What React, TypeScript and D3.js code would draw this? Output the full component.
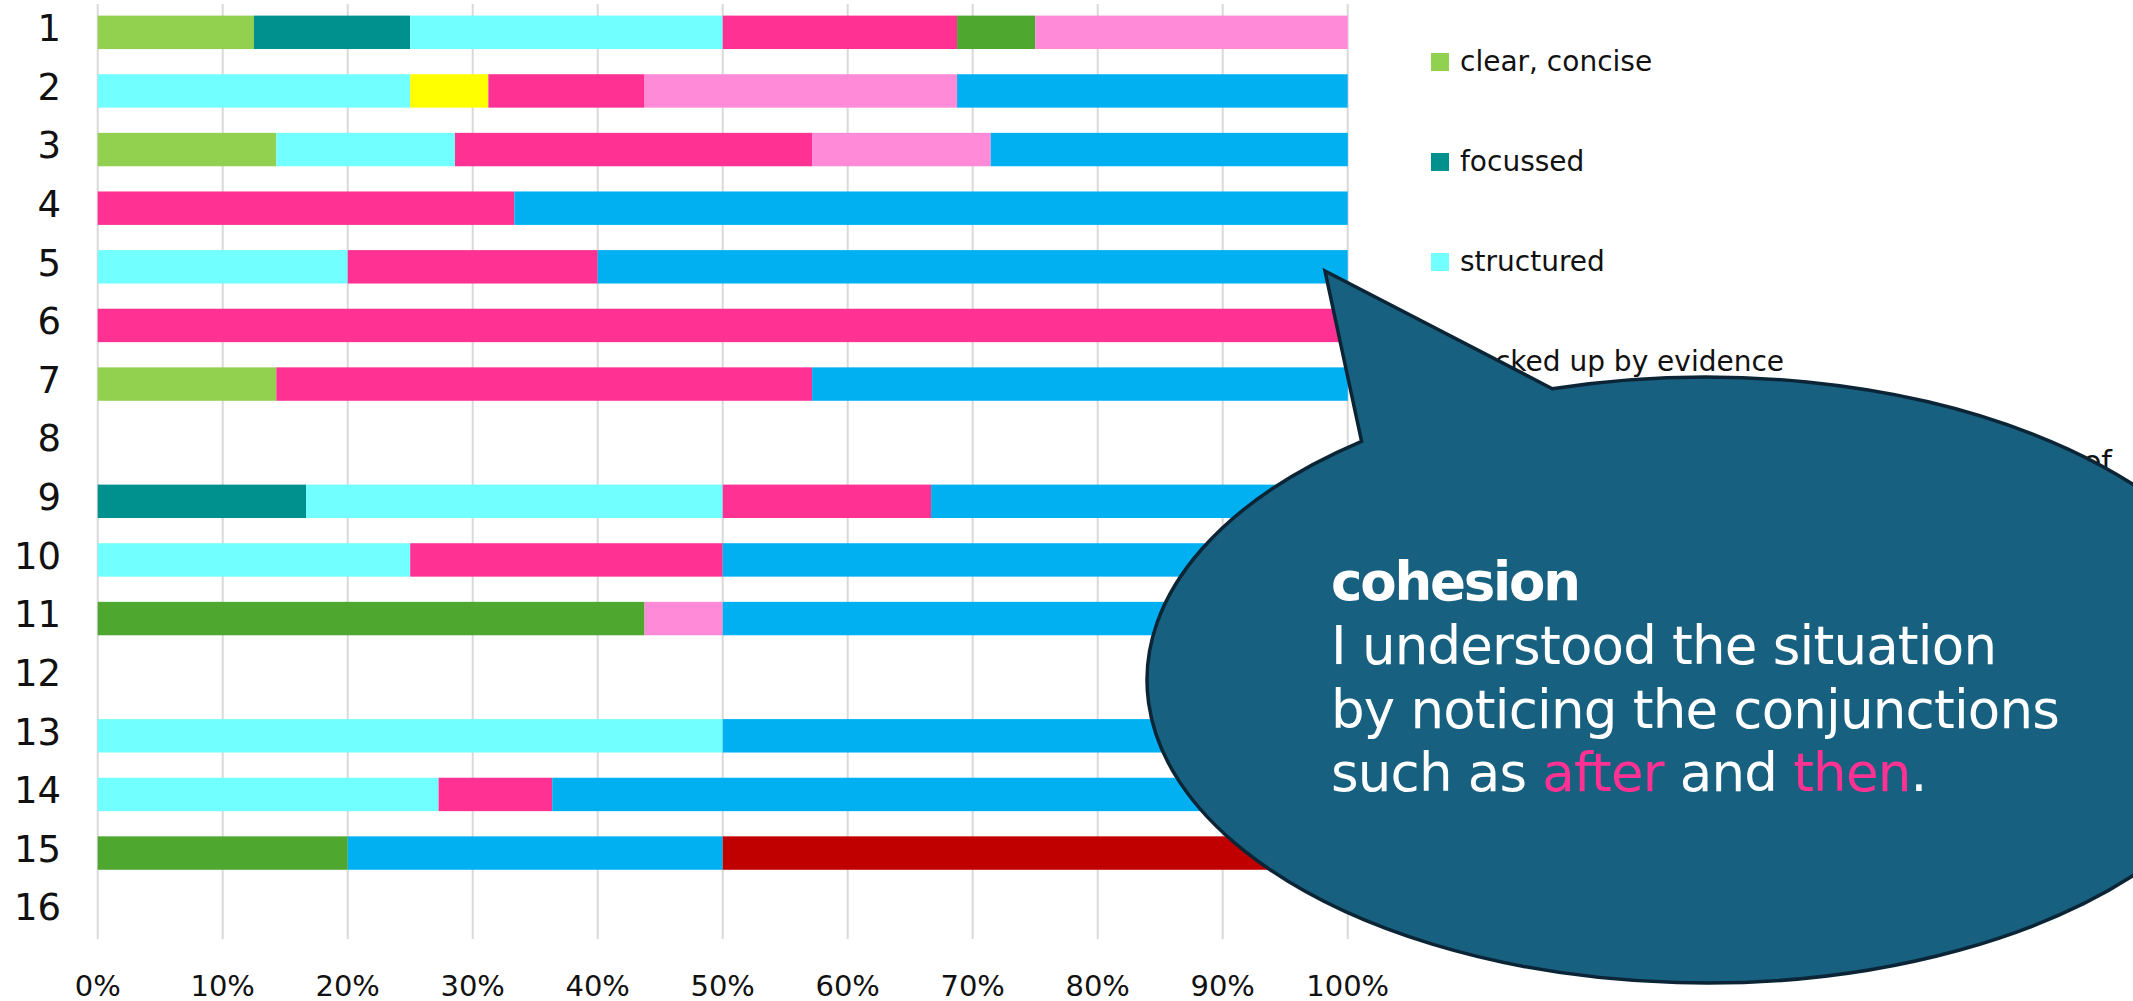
import React, { useEffect } from "react";
import * as d3 from "d3";

const rows = ["1", "2", "3", "4", "5", "6", "7", "8", "9", "10", "11", "12", "13", "14", "15", "16"];

const seriesNames = [
  "clear, concise",
  "focussed",
  "structured",
  "backed up by evidence",
  "cohesion: understood the order and flow of",
  "engaging",
  "appropriate vocabulary",
  "appropriate grammar",
  "other",
];
const seriesColors = ["#92D050", "#00918E", "#72FFFF", "#FFFF00", "#FF3192", "#4EA72E", "#FF8AD8", "#00B0F0", "#C00000"];

// number of legend labels that are visible (the rest lie under the callout)
const visibleLegendLabels = 5;

// percent of each row (rows 1..16)
const clearConcise = [12.5, 0, 14.29, 0, 0, 0, 14.29, 0, 0, 0, 0, 0, 0, 0, 0, 0];
const focussed = [12.5, 0, 0, 0, 0, 0, 0, 0, 16.67, 0, 0, 0, 0, 0, 0, 0];
const structured = [25, 25, 14.29, 0, 20, 0, 0, 0, 33.33, 25, 0, 0, 50, 27.27, 0, 0];
const backedUp = [0, 6.25, 0, 0, 0, 0, 0, 0, 0, 0, 0, 0, 0, 0, 0, 0];
const cohesion = [18.75, 12.5, 28.57, 33.33, 20, 100, 42.86, 0, 16.67, 25, 0, 0, 0, 9.09, 0, 0];
const engaging = [6.25, 0, 0, 0, 0, 0, 0, 0, 0, 0, 43.75, 0, 0, 0, 20, 0];
const vocabulary = [25, 25, 14.29, 0, 0, 0, 0, 0, 0, 0, 6.25, 0, 0, 0, 0, 0];
const grammar = [0, 31.25, 28.57, 66.67, 60, 0, 42.86, 0, 33.33, 50, 50, 0, 50, 63.64, 30, 0];
const other = [0, 0, 0, 0, 0, 0, 0, 0, 0, 0, 0, 0, 0, 0, 50, 0];

const seriesValues = [clearConcise, focussed, structured, backedUp, cohesion, engaging, vocabulary, grammar, other];

const tickValues = [0, 10, 20, 30, 40, 50, 60, 70, 80, 90, 100];

const bubbleTitle = "cohesion";
const bubbleLine1 = "I understood the situation";
const bubbleLine2 = "by noticing the conjunctions";

export default function App() {
  useEffect(() => {
    document.body.style.margin = "0";
  }, []);

  const W = 2133;
  const H = 1001;
  const x = d3.scaleLinear().domain([0, 100]).range([97.7, 1347.7]);
  const y = d3.scaleBand<string>().domain(rows).range([3, 941]).paddingInner(0.43).paddingOuter(0.215);

  const table = rows.map((r, i) => {
    const o: any = { row: r };
    seriesNames.forEach((n, j) => (o[n] = seriesValues[j][i]));
    return o;
  });
  const stacked = d3.stack<any>().keys(seriesNames)(table);

  // callout geometry
  const cx = 1706, cy = 680, rx = 559, ry = 303;
  const tip = [1325, 271];
  const t1 = Math.atan2((443 - cy) / ry, (1364 - cx) / rx);
  const t2 = Math.atan2((392 - cy) / ry, (1554 - cx) / rx);
  const b1 = [cx + rx * Math.cos(t1), cy + ry * Math.sin(t1)];
  const b2 = [cx + rx * Math.cos(t2), cy + ry * Math.sin(t2)];
  const bubblePath = `M${b1[0]},${b1[1]} L${tip[0]},${tip[1]} L${b2[0]},${b2[1]} A${rx},${ry} 0 1 1 ${b1[0]},${b1[1]} Z`;

  const font = "'DejaVu Sans', Verdana, sans-serif";

  return (
    <div style={{ position: "absolute", left: 0, top: 0 }}>
      <svg width={W} height={H} style={{ display: "block", background: "#fff" }} fontFamily={font}>
        {/* gridlines */}
        {tickValues.map((t) => (
          <line key={t} x1={x(t)} x2={x(t)} y1={4} y2={939} stroke="#D9D9D9" strokeWidth={2} />
        ))}
        {/* bars */}
        {stacked.map((s, si) => (
          <g key={si} fill={seriesColors[si]}>
            {s.map((d, i) =>
              d[1] - d[0] > 0 ? (
                <rect
                  key={i}
                  x={x(d[0])}
                  width={x(d[1]) - x(d[0])}
                  y={y(rows[i])}
                  height={y.bandwidth()}
                />
              ) : null
            )}
          </g>
        ))}
        {/* row labels */}
        {rows.map((r) => (
          <text key={r} x={61} y={(y(r) as number) + y.bandwidth() / 2 + 8.7} textAnchor="end" fontSize={37} fill="#111">
            {r}
          </text>
        ))}
        {/* x tick labels */}
        {tickValues.map((t) => (
          <text key={t} x={x(t)} y={995.5} textAnchor="middle" fontSize={29} fill="#111">
            {t}%
          </text>
        ))}
        {/* legend */}
        {seriesNames.map((n, i) => (
          <g key={n} transform={`translate(1431,${53 + i * 100})`}>
            <rect width={18} height={18} fill={seriesColors[i]} />
            {i < visibleLegendLabels ? (
              <text
                x={29}
                y={18}
                fontSize={28}
                fill="#111"
                {...(i === 4 ? { textLength: 652, lengthAdjust: "spacingAndGlyphs" } : {})}
              >
                {n}
              </text>
            ) : null}
          </g>
        ))}
        {/* callout */}
        <path d={bubblePath} fill="#17607F" stroke="#0B2536" strokeWidth={3.5} strokeLinejoin="miter" />
        <g fill="#fff" fontSize={53} letterSpacing={-0.8}>
          <text x={1331} y={600} fontWeight="bold" letterSpacing={-2.2}>
            {bubbleTitle}
          </text>
          <text x={1331} y={664}>{bubbleLine1}</text>
          <text x={1331} y={728}>{bubbleLine2}</text>
          <text x={1331} y={791}>
            <tspan>such as </tspan>
            <tspan fill="#FF3192">after</tspan>
            <tspan> and </tspan>
            <tspan fill="#FF3192">then</tspan>
            <tspan>.</tspan>
          </text>
        </g>
      </svg>
    </div>
  );
}
